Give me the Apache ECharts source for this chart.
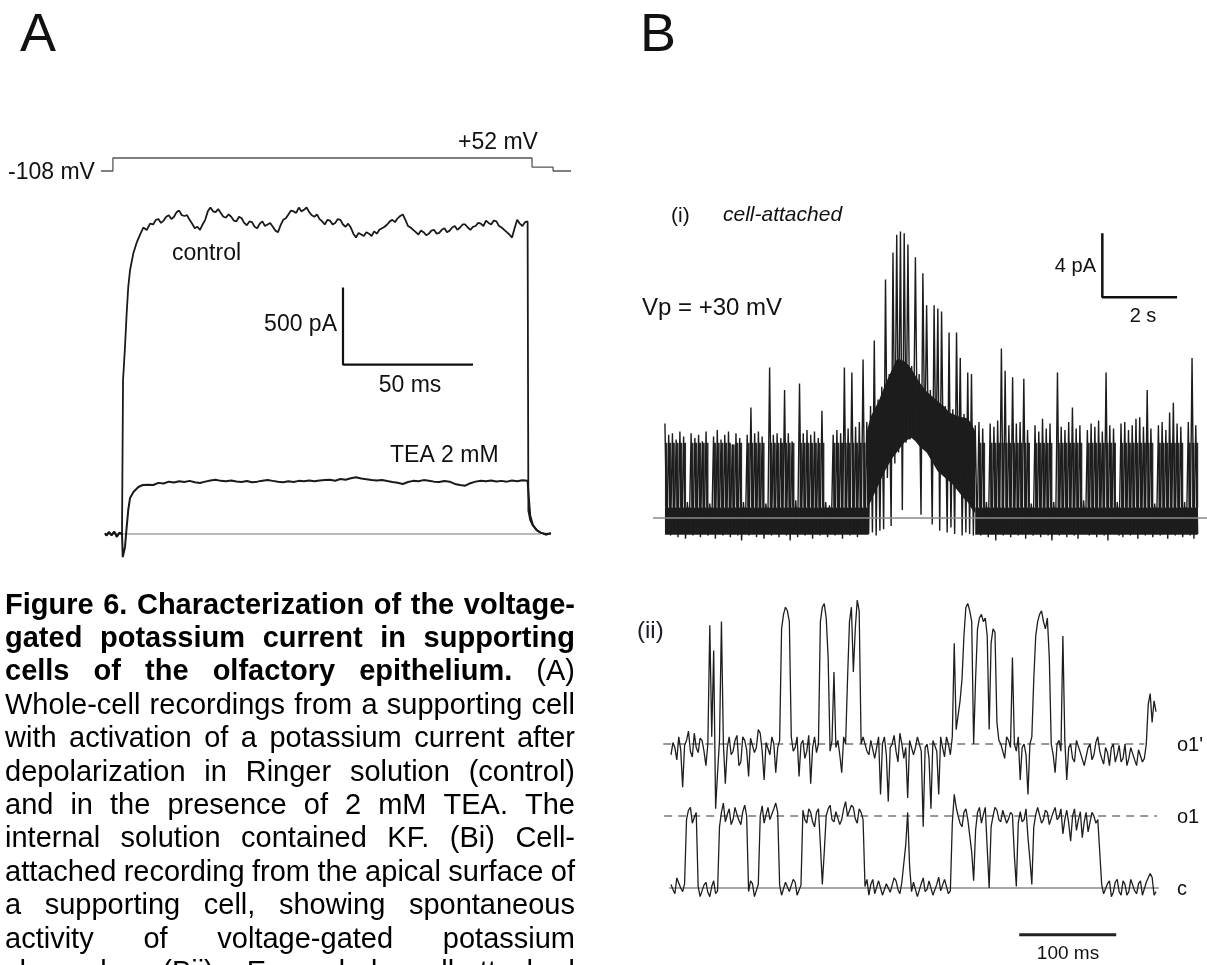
<!DOCTYPE html>
<html><head><meta charset="utf-8">
<script src="https://cdn.jsdelivr.net/npm/echarts@6.0.0/dist/echarts.min.js"></script>
<style>html,body{margin:0;padding:0;background:#fff}#c{width:1207px;height:965px}</style>
</head><body><div id="c"></div>
<script>
// ---------- Panel A : voltage protocol (ms, mV) ----------
const voltageTrace = [[-8.1,-108],[-3.5,-108],[-3.5,52],[157.7,52],[157.7,-60],[165.8,-60],[165.8,-108],[172.7,-108]];
// ---------- Panel A : whole-cell currents (ms, pA) ----------
const preStep = [[-6.5,5],[-6,-10],[-5.5,-15],[-5,12],[-4.5,10],[-4,-8],[-3.5,-20],[-3,15],[-2.5,0],[-2,-18],[-1.5,-25],[-1,8],[-0.5,10]];
const ctrlRise = [[0,0],[0.4,1000],[1.15,1214],[1.8,1435],[2.4,1604],[3.1,1714],[4.4,1825],[5.6,1890],[6.9,1942],[8.2,1990],[9.5,1974],[10.8,2015]];
const ctrlPlateauStart = 12, ctrlStep = 1;
const ctrlPlateau = [2010,2040,2045,2020,2035,2060,2070,2045,2060,2090,
 2100,2070,2065,2070,2040,2015,1985,1995,1975,2010,
 2040,2095,2120,2095,2090,2110,2085,2060,2055,2075,
 2060,2035,2030,2060,2050,2020,2005,2030,2025,1995,
 1985,2015,2030,2000,2010,2020,1995,1970,1960,2005,
 2040,2050,2075,2100,2095,2085,2120,2095,2105,2120,
 2090,2070,2060,2075,2045,2030,2010,2040,2035,2010,
 2020,2045,2040,2010,1995,2015,1990,1950,1925,1955,
 1945,1935,1960,1950,1935,1965,1950,1975,1985,1995,
 2010,2030,2040,2025,2050,2065,2075,2040,2000,1990,
 1975,1960,1945,1970,1960,1940,1950,1970,1975,1950,
 1955,1975,1985,1960,1970,1990,2000,1975,1990,2010,
 2010,1990,1975,1995,2000,2020,2015,2000,2035,2020,
 2010,2035,2030,2000,1990,1975,1960,1945,1925,1985,
 2040,2015,2000,2025,2030];
const ctrlFall = [[156.3,150],[157,90],[158,55],[159.5,25],[161,10],[163,-5],[165,5]];
const teaRise = [[0,0],[0.3,-150],[1.15,-84],[1.8,45],[2.4,156],[3.1,234],[4.4,273],[6.3,305],[8,318]];
const teaPlateauStart = 10, teaStep = 2;
const teaPlateau = [320,318,332,328,340,335,342,338,345,336,
 331,340,348,352,345,342,348,341,338,344,
 336,340,346,350,345,340,336,342,338,345,
 343,347,342,348,350,352,346,357,352,362,
 368,360,356,350,347,351,344,338,333,325,
 338,345,342,350,346,340,337,344,340,325,
 318,314,330,340,346,342,348,341,345,340,
 347,343,349,346];
const teaFall = [[156.4,250],[157,120],[158,60],[159.5,25],[161,8],[163,0],[165,3]];
const aBaseline = [[-6.5,0],[161,0]];
const aScaleBar = [[85,1600],[85,1100],[135,1100]];

// ---------- Panel B(i) : cell-attached, 0.1 s bins (s, pA) ----------
const binWidth = 0.1;
const biPeak = [5.9,5.2,5.3,4.9,5.4,5.1,1.0,5.3,5.0,5.2,
 4.8,5.4,0.9,5.1,5.5,4.9,5.2,5.4,4.6,5.3,
 5.0,1.0,5.2,6.9,5.3,5.4,5.1,0.9,9.4,5.2,
 5.3,5.0,8.0,5.3,4.8,1.1,8.4,5.3,5.5,5.2,
 5.4,5.0,6.7,1.0,0.8,5.2,5.5,5.3,9.4,5.6,
 9.1,5.7,6.0,9.9,6.0,7.0,11.1,7.4,8.2,14.9,
 9.0,16.6,17.7,17.9,17.8,17.1,9.5,16.3,9.0,15.3,
 13.3,8.0,13.3,13.1,12.9,7.0,11.6,6.8,11.6,10.0,
 6.5,9.1,9.0,5.8,6.0,5.6,1.0,5.9,5.7,6.1,
 10.6,9.2,5.8,8.8,5.9,6.0,8.7,5.5,0.9,5.8,
 5.4,6.2,5.6,5.9,1.0,9.1,5.7,5.5,6.0,6.9,
 5.6,5.8,1.1,5.5,5.9,5.7,6.1,5.4,9.1,5.8,
 5.6,1.0,5.9,6.0,5.5,5.8,6.2,6.3,5.7,8.0,
 5.6,0.9,5.8,6.0,5.5,6.6,7.2,5.9,5.7,1.0,
 6.0,10.0,5.8];
const biLow = [-1.0,-1.1,-0.9,-1.2,-1.0,-1.3,-0.9,-1.1,-1.0,-1.2,
 -0.9,-1.1,-1.0,-1.3,-1.0,-1.1,-0.9,-1.2,-1.0,-1.1,
 -1.4,-1.0,-1.1,-0.9,-1.2,-1.0,-1.3,-1.0,-1.1,-0.9,
 -1.2,-1.0,-1.1,-1.4,-1.0,-1.2,-0.9,-1.1,-1.0,-1.3,
 -1.0,-1.1,-0.9,-1.2,-1.0,-1.1,-1.0,-1.3,-0.9,-1.1,
 -1.0,-1.2,-0.9,-1.0,
 -1.0,-0.9,-1.1,-0.8,-0.7,2.5,-0.5,3.4,4.1,0.5,
 4.7,4.9,5.0,4.8,0.2,4.3,4.1,-0.4,3.3,-0.8,
 2.7,-0.9,-0.6,-1.0,1.8,-1.1,-0.9,-1.0,-1.1,-1.0,
 -1.1,-0.9,-1.2,-1.0,-1.4,-1.0,-1.1,-0.9,-1.2,-1.0,
 -1.1,-1.0,-1.3,-0.9,-1.1,-1.0,-1.2,-1.0,-1.1,-1.4,
 -1.0,-1.1,-0.9,-1.2,-1.0,-1.1,-1.3,-1.0,-0.9,-1.1,
 -1.0,-1.2,-1.0,-1.1,-1.4,-0.9,-1.0,-1.1,-1.2,-1.0,
 -1.1,-0.9,-1.3,-1.0,-1.1,-1.0,-1.2,-0.9,-1.1,-1.0,
 -1.3,-1.0,-1.1,-0.9,-1.2,-1.0,-1.1,-1.3,-1.0];
const massStart = 5.4;
const massTop = [5.4,6.3,6.8,7.2,7.8,8.4,8.9,9.4,9.9,9.9,9.8,9.6,9.3,8.9,8.5,8.2,7.9,7.7,7.5,7.3,7.1,6.9,6.6,6.5,6.4,6.3,6.3,6.2,5.9,5.4];
const massBottom = [0.6,1.0,1.5,2.0,2.5,3.0,3.4,3.8,4.1,4.4,4.7,4.9,5.0,4.8,4.5,4.3,4.1,3.7,3.3,2.9,2.7,2.5,2.3,2.1,1.8,1.5,1.2,1.0,0.6,0.3];
const closedSegments = [[0,5.45],[8.3,14.25]];
const closedBandHigh = 0.65, closedBandLow = -1.05;
const flickerCap = 4.7;           // dense open-level edge of the flicker band (pA)
const biBaseline = [[-0.32,0],[14.5,0]];
const biScaleBar = [[11.7,17.8],[11.7,13.8],[13.7,13.8]];

// ---------- Panel B(ii) : expanded record, 2 ms samples (ms, unitary levels) ----------
const biiStep = 2;
const biiLower = [0.05,-0.02,-0.08,0.14,0.12,0.0,-0.05,0.06,0.95,1.08,
 1.12,0.9,0.98,1.05,0.02,-0.12,-0.1,0.04,0.08,-0.06,
 -0.12,0.02,0.1,-0.08,-0.04,0.85,1.05,1.18,0.92,1.02,
 1.1,0.88,0.95,1.12,1.02,0.94,0.88,1.06,1.15,1.0,
 -0.05,0.1,0.06,-0.12,-0.1,0.05,1.0,1.14,0.9,1.02,
 1.12,0.95,0.96,1.1,1.18,1.05,0.04,-0.1,-0.08,0.08,
 0.1,-0.05,-0.03,0.12,0.08,-0.1,-0.1,0.04,1.08,0.95,
 0.9,1.1,1.05,0.92,0.85,1.05,1.1,0.6,0.05,0.5,
 1.0,1.1,1.15,0.95,0.92,1.06,1.08,0.88,0.95,1.1,
 1.2,1.0,0.98,1.15,1.12,0.96,0.9,1.1,1.05,0.95,
 0.02,0.12,-0.1,0.05,0.12,-0.08,-0.06,0.1,0.08,-0.1,
 -0.12,0.06,0.05,-0.06,-0.04,0.14,0.1,-0.02,-0.08,0.08,
 0.06,0.6,1.05,0.3,-0.05,0.08,0.1,-0.12,-0.1,0.06,
 0.14,-0.05,-0.02,0.1,0.12,-0.1,-0.09,0.05,0.15,-0.04,
 -0.06,0.12,0.13,-0.08,-0.04,0.9,1.3,1.12,1.0,0.9,
 0.85,1.05,1.1,0.95,0.95,0.5,0.1,0.8,1.05,1.12,
 0.9,1.02,1.12,0.55,0.0,0.85,1.0,1.12,1.08,0.95,
 0.92,1.08,1.1,0.9,0.96,1.05,1.02,0.45,0.02,0.9,
 1.06,0.92,0.95,1.1,0.7,0.4,0.05,0.85,1.02,1.12,
 1.1,0.9,0.95,1.08,1.05,0.88,0.9,1.05,1.12,0.95,
 0.98,1.1,0.75,0.95,1.08,0.9,0.65,1.0,1.1,0.8,
 0.95,1.06,0.7,0.92,1.05,0.78,0.8,1.05,1.0,0.9,
 0.95,0.5,0.05,-0.08,-0.1,0.06,0.1,-0.12,-0.06,0.08,
 0.12,-0.05,-0.1,0.1,0.05,-0.1,-0.05,0.12,0.14,-0.04,
 -0.08,0.06,0.1,-0.1,-0.12,0.08,0.06,0.2,0.15,-0.1,
 -0.05];
const biiUpper = [1.85,2.02,1.95,1.78,2.1,1.92,1.4,1.98,2.05,2.18,
 1.9,1.82,2.15,1.95,1.88,2.08,2.05,1.9,1.7,2.0,
 3.65,2.1,3.3,1.1,1.6,2.05,3.7,2.0,1.45,1.95,
 2.1,1.85,1.9,2.05,2.12,1.7,1.75,2.1,2.05,1.92,
 1.55,2.08,2.1,1.88,1.95,2.2,2.15,1.9,1.5,2.02,
 2.0,1.85,2.1,2.0,1.6,1.95,2.05,3.6,3.8,3.9,
 3.85,3.7,2.1,1.9,1.95,2.1,1.55,2.0,2.05,1.8,
 1.9,2.12,1.45,1.95,2.1,1.88,2.0,3.7,3.9,3.95,
 3.75,3.2,1.9,2.05,3.0,1.95,2.05,1.85,1.6,2.1,
 2.0,2.9,3.7,3.9,3.0,3.6,4.0,3.85,2.0,2.1,
 2.1,1.9,1.85,2.05,2.05,1.8,1.95,2.1,1.3,2.0,
 2.1,1.85,1.2,1.95,2.0,2.12,1.9,1.75,2.15,2.0,
 1.8,1.95,1.25,2.05,2.05,1.85,1.95,2.1,2.1,1.9,
 0.85,1.95,2.0,1.8,1.1,2.05,2.05,1.9,1.3,2.1,
 1.95,1.82,2.1,2.0,1.85,2.1,3.4,2.2,2.2,2.6,
 2.9,3.5,3.9,3.95,3.85,3.7,2.0,2.9,3.6,3.75,
 3.8,3.7,3.75,3.5,2.2,3.4,3.6,3.55,2.3,2.05,
 2.0,1.9,1.8,2.1,2.05,1.95,3.2,2.0,1.9,2.1,
 1.5,1.95,2.0,1.85,1.3,2.0,2.1,2.9,3.5,3.7,
 3.8,3.85,3.7,3.6,3.75,3.2,2.0,1.85,1.6,2.0,
 2.05,1.9,3.5,2.05,1.5,1.95,2.0,1.8,1.75,2.05,
 2.05,1.88,1.9,1.7,1.7,1.95,2.0,1.78,1.85,2.02,
 2.1,1.9,1.8,1.72,1.95,1.88,1.7,1.95,2.0,1.75,
 1.85,1.98,1.75,1.8,2.0,1.7,1.8,1.95,1.95,1.78,
 1.7,1.92,1.9,1.75,1.8,2.0,2.55,2.7,2.3,2.6,
 2.45];
const levelC = [[-2,0],[503,0]];
const levelO1 = [[-7,1],[501,1]];
const levelO1p = [[-8,2],[488,2]];
const biiScaleBar = [[359,-0.65],[459,-0.65]];

// ---------- caption ----------
const captionLines = [
 "Figure 6. Characterization of the voltage-",
 "gated potassium current in supporting",
 "cells of the olfactory epithelium. (A)",
 "Whole-cell recordings from a supporting cell",
 "with activation of a potassium current after",
 "depolarization in Ringer solution (control)",
 "and in the presence of 2 mM TEA. The",
 "internal solution contained KF. (Bi) Cell-",
 "attached recording from the apical surface of",
 "a supporting cell, showing spontaneous",
 "activity of voltage-gated potassium",
 "channels. (Bii) Expanded cell-attached"
];
const captionBoldWords = [6,5,5,0,0,0,0,0,0,0,0,0];

// ---------- build ----------
const FAM = '"Liberation Sans", Arial, Helvetica, sans-serif';
function seq(start, step, vals){ return vals.map((v,i)=>[start+i*step, v]); }
const controlData = preStep.concat(ctrlRise, seq(ctrlPlateauStart, ctrlStep, ctrlPlateau), ctrlFall);
const teaData = preStep.concat(teaRise, seq(teaPlateauStart, teaStep, teaPlateau), teaFall);
const biZig = [];
for (let i=0;i<biPeak.length;i++){ biZig.push([i*binWidth, biPeak[i]]); biZig.push([i*binWidth+binWidth/2, biLow[i]]); }
const massEndIdx = Math.round(massStart/binWidth) + massTop.length - 1;
const massStartIdx = Math.round(massStart/binWidth);
const flickerBins = [];
biPeak.forEach((p,i)=>{ if ((i < massStartIdx || i > massEndIdx) && p > 2) flickerBins.push([i*binWidth, Math.min(p, flickerCap)]); });
const upperData = seq(0, biiStep, biiUpper);
const lowerData = seq(0, biiStep, biiLower);

function lineS(data, xi, color, width, extra){
  return Object.assign({type:'line', data:data, xAxisIndex:xi, yAxisIndex:xi, symbol:'none', showSymbol:false,
    lineStyle:{color:color, width:width}, silent:true, animation:false}, extra||{});
}

const graphics = [];
function txt(t, x, y, size, opts){
  opts = opts||{};
  graphics.push({type:'text', x:x, y:y, silent:true, style:{text:t, fill:opts.fill||'#111',
    font:(opts.style||'normal')+' '+(opts.weight||'normal')+' '+size+'px '+FAM,
    align:opts.align||'left', verticalAlign:'middle', textAlign:opts.align||'left', textVerticalAlign:'middle'}});
}
txt('A', 20, 36, 54);
txt('B', 640, 36, 54);
txt('-108 mV', 8, 173, 23);
txt('+52 mV', 458, 143, 23);
txt('control', 172, 254, 23);
txt('500 pA', 337, 325, 23, {align:'right'});
txt('50 ms', 410, 386, 23, {align:'center'});
txt('TEA 2 mM', 390, 456, 23);
txt('(i)', 671, 216, 21);
txt('cell-attached', 723, 215, 21, {style:'italic'});
txt('Vp = +30 mV', 642, 308, 24);
txt('4 pA', 1096, 266, 20, {align:'right'});
txt('2 s', 1143, 316, 20, {align:'center'});
txt('(ii)', 637, 631, 24, {fill:'#1a1a2a'});
txt("o1'", 1177, 745, 20);
txt('o1', 1177, 817, 20);
txt('c', 1177, 889, 20);
txt('100 ms', 1068, 954, 19, {align:'center'});

// justified caption
const mctx = document.createElement('canvas').getContext('2d');
const capLeft = 5, capWidth = 570, capSize = 29, capBase0 = 614.5, capPitch = 33.4;
captionLines.forEach((line, k) => {
  const words = line.split(' ');
  const fonts = words.map((w,j)=> (j < captionBoldWords[k] ? 'bold ' : 'normal ') + capSize + 'px ' + FAM);
  const widths = words.map((w,j)=>{ mctx.font = fonts[j]; return mctx.measureText(w).width; });
  const total = widths.reduce((a,b)=>a+b,0);
  const gap = words.length>1 ? (capWidth-total)/(words.length-1) : 0;
  let x = capLeft;
  const y = capBase0 + k*capPitch - 0.31*capSize;
  words.forEach((w,j)=>{
    graphics.push({type:'text', x:x, y:y, silent:true, style:{text:w, fill:'#000', font:fonts[j],
      align:'left', verticalAlign:'middle', textAlign:'left', textVerticalAlign:'middle'}});
    x += widths[j] + gap;
  });
});

const chart = echarts.init(document.getElementById('c'), null, {renderer:'canvas'});
const hidden = {show:false};
chart.setOption({
  animation:false,
  backgroundColor:'#ffffff',
  grid:[
    {left:90.8, top:154.1, width:488.8, height:24.375},
    {left:90.8, top:164.4, width:488.8, height:415.8},
    {left:646.25, top:198, width:562.5, height:368},
    {left:651.6, top:528, width:523.8, height:432}
  ],
  xAxis:[
    Object.assign({type:'value', gridIndex:0, min:-12, max:176}, hidden),
    Object.assign({type:'value', gridIndex:1, min:-12, max:176}, hidden),
    Object.assign({type:'value', gridIndex:2, min:-0.5, max:14.5}, hidden),
    Object.assign({type:'value', gridIndex:3, min:-20, max:520}, hidden)
  ],
  yAxis:[
    Object.assign({type:'value', gridIndex:0, min:-200, max:100}, hidden),
    Object.assign({type:'value', gridIndex:1, min:-300, max:2400}, hidden),
    Object.assign({type:'value', gridIndex:2, min:-3, max:20}, hidden),
    Object.assign({type:'value', gridIndex:3, min:-1, max:5}, hidden)
  ],
  series:[
    lineS(voltageTrace, 0, '#555', 1.3, {clip:false}),
    lineS(aBaseline, 1, '#777', 1.2),
    lineS(teaData, 1, '#1a1a1a', 2),
    lineS(controlData, 1, '#1a1a1a', 1.8),
    lineS(aScaleBar, 1, '#111', 2.2),
    {type:'custom', xAxisIndex:2, yAxisIndex:2, data:closedSegments, silent:true, animation:false,
      renderItem:function(p, api){
        const a = api.coord([api.value(0), closedBandHigh]);
        const b = api.coord([api.value(1), closedBandLow]);
        return {type:'rect', shape:{x:a[0], y:a[1], width:b[0]-a[0], height:b[1]-a[1]}, style:{fill:'#1e1e1e'}};
      }},
    {type:'custom', xAxisIndex:2, yAxisIndex:2, data:flickerBins, silent:true, animation:false,
      renderItem:function(p, api){
        const a = api.coord([api.value(0), api.value(1)]);
        const b = api.coord([api.value(0)+binWidth*0.65, closedBandHigh]);
        return {type:'rect', shape:{x:a[0], y:a[1], width:b[0]-a[0], height:b[1]-a[1]}, style:{fill:'#2c2c2c'}};
      }},
    lineS(biZig, 2, '#1c1c1c', 1.4),
    {type:'custom', xAxisIndex:2, yAxisIndex:2, data:[[massStart, 5]], silent:true, animation:false,
      renderItem:function(p, api){
        const pts = [];
        for (let k=0;k<massTop.length;k++) pts.push(api.coord([massStart+k*binWidth, massTop[k]]));
        for (let k=massBottom.length-1;k>=0;k--) pts.push(api.coord([massStart+k*binWidth, massBottom[k]]));
        return {type:'polygon', shape:{points:pts}, style:{fill:'#1e1e1e'}};
      }},
    lineS(biBaseline, 2, '#8a8a8a', 1.5),
    lineS(biScaleBar, 2, '#111', 2.5),
    lineS(levelC, 3, '#8a8a8a', 1.5),
    lineS(levelO1, 3, '#333', 1.2, {lineStyle:{color:'#333', width:1.2, type:[8,6]}}),
    lineS(levelO1p, 3, '#333', 1.2, {lineStyle:{color:'#333', width:1.2, type:[8,6]}}),
    lineS(lowerData, 3, '#1e1e1e', 1.3),
    lineS(upperData, 3, '#1e1e1e', 1.3),
    lineS(biiScaleBar, 3, '#222', 3, {clip:false})
  ],
  graphic:{elements:graphics}
});
</script></body></html>
